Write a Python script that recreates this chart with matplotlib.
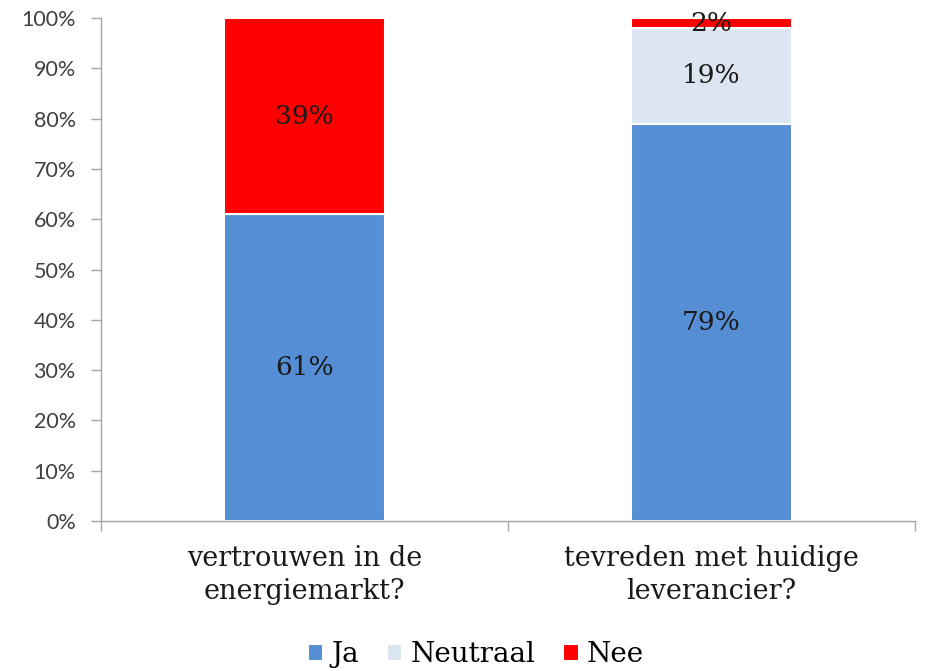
import matplotlib
matplotlib.use("Agg")
import matplotlib.pyplot as plt
from matplotlib.ticker import FixedLocator, PercentFormatter

# data
categories = ["vertrouwen in de\nenergiemarkt?", "tevreden met huidige\nleverancier?"]
ja = [61, 79]
neutraal = [0, 19]
nee = [39, 2]
series_names = ["Ja", "Neutraal", "Nee"]
colors = ["#558ED5", "#DCE6F2", "#FF0000"]

serif = ["DejaVu Serif"]
sans = ["Lato", "DejaVu Sans"]

fig = plt.figure(figsize=(9.25, 6.71), dpi=100)
ax = fig.add_axes([0.109, 0.2235, 0.88, 0.7495])

x = range(len(categories))
bottom = [0, 0]
for name, vals, col in zip(series_names, [ja, neutraal, nee], colors):
    ax.bar(x, vals, width=0.395, bottom=bottom, color=col,
           edgecolor="white", linewidth=1.5, label=name)
    for xi, v, b in zip(x, vals, bottom):
        if v > 0:
            ax.text(xi, b + v / 2, f"{v}%", ha="center", va="center",
                    fontsize=19, family=serif, color="#1a1a1a")
    bottom = [b + v for b, v in zip(bottom, vals)]

ax.set_xlim(-0.5, 1.5)
ax.set_ylim(0, 100)
ax.yaxis.set_major_locator(FixedLocator(range(0, 101, 10)))
ax.yaxis.set_major_formatter(PercentFormatter(decimals=0))

# category boundaries as tick marks, labels on minor ticks
ax.xaxis.set_major_locator(FixedLocator([-0.5, 0.5, 1.5]))
ax.set_xticklabels([])
ax.xaxis.set_minor_locator(FixedLocator(list(x)))
ax.set_xticklabels(categories, minor=True, fontsize=19.5, family=serif,
                   color="#1a1a1a", linespacing=1.3)
ax.tick_params(axis="x", which="minor", length=0, pad=17)
ax.tick_params(axis="x", which="major", length=7, color="#A6A6A6", width=1)
ax.tick_params(axis="y", length=7, color="#A6A6A6", width=1, labelsize=15.5,
               labelcolor="#404040", pad=11)
for lbl in ax.get_yticklabels():
    lbl.set_family(sans)

for s in ["top", "right"]:
    ax.spines[s].set_visible(False)
for s in ["left", "bottom"]:
    ax.spines[s].set_color("#A6A6A6")
    ax.spines[s].set_linewidth(1)

ax.legend(loc="center", bbox_to_anchor=(0.461, -0.266), ncol=3, frameon=False,
          prop={"family": serif[0], "size": 20}, handlelength=0.55, handleheight=0.55,
          handletextpad=0.3, columnspacing=1.0)

fig.savefig("out.png", dpi=100)
